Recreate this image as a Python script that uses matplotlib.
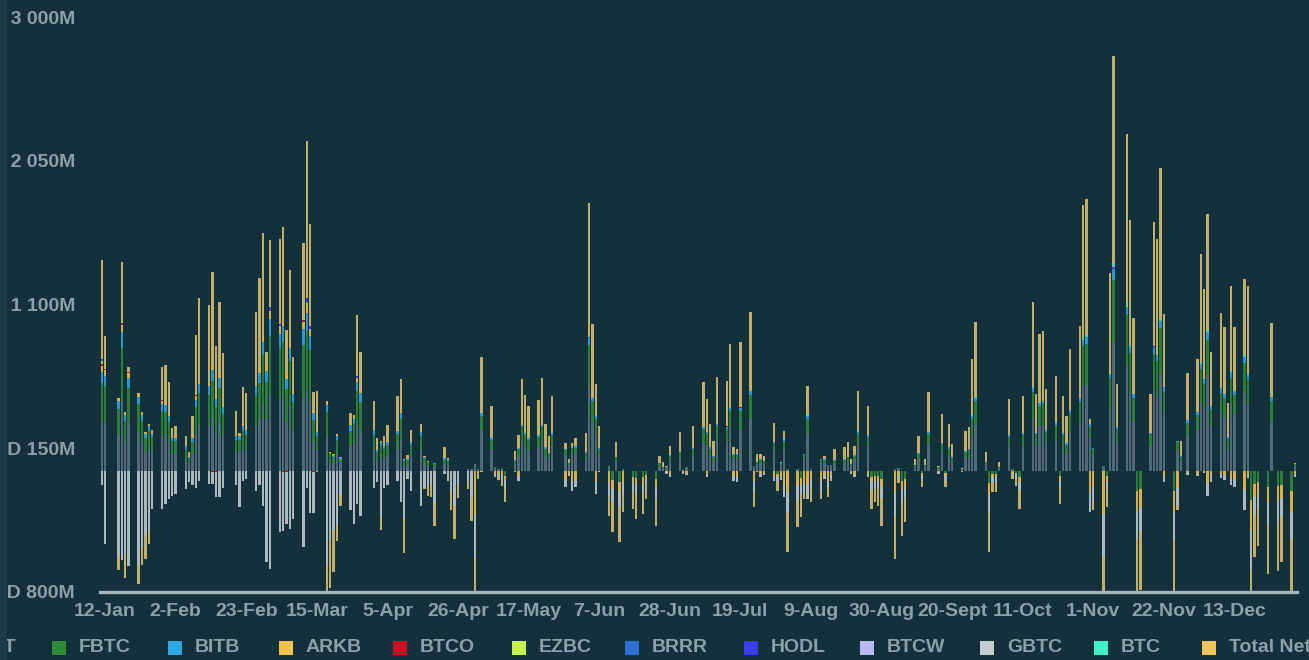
import matplotlib.pyplot as plt, numpy as np, pandas as pd
from matplotlib.patches import Rectangle

# US market holidays inside the plotted range (no trading, no bar)
HOLIDAYS = ["2024-01-15", "2024-02-19", "2024-03-29", "2024-05-27", "2024-06-19",
            "2024-07-04", "2024-09-02", "2024-11-28", "2024-12-25"]
TICK_LABELS = ["12-Jan", "2-Feb", "23-Feb", "15-Mar", "5-Apr", "26-Apr", "17-May", "7-Jun", "28-Jun",
               "19-Jul", "9-Aug", "30-Aug", "20-Sept", "11-Oct", "1-Nov", "22-Nov", "13-Dec"]
Y_TICKS = [-800, 150, 1100, 2050, 3000]
Y_LABELS = ["-USD 800M", "USD 150M", "USD 1 100M", "USD 2 050M", "USD 3 000M"]

# daily flows, US$m, one line per month (Jan 11 .. Dec 31, trading days only)
ibit = [320, 320, 240, 470, 195, 319, 260, 195, 127, 155, 132, 231, 232, 190,
        115, 115, 85, 50, 112, 247, 305, 295, 350, 250, 322, 222, 122, 122, 155, 140, 295, 340, 450, 345,
        512, 472, 505, 317, 427, 267, 485, 526, 462, 200, 137, 232, 65, 55, 122, 45, 157, 182, 307, 267,
        140, 72, 100, 87, 100, 142, 205, 40, 42, 100, 137, 50, 32, 0, 27, 45, 37, 0, 0, 0, 10, 10,
        45, 15, 265, 140, 18, 10, 15, 0, 49, 105, 198, 164, 140, 153, 199, 101, 76, 162, 103, 41, 111, 113,
        82, 569, 316, 253, 108, 23, 0, 61, 0, 10, 0, 0, 0, 0, 0, 36, 20, 20, 73,
        84, 8, 18, 98, 191, 180, 101, 65, 201, 186, 272, 77, 77, 271, 342, 23, 45, 53, 49, 134, 0, 37,
        138, 8, 10, 0, 78, 249, 10, 55, 54, 30, 30, 47, 51, 61, 37, 72, 165, 164, 0, 0, 0, 0,
        8, 15, 0, 0, 28, 76, 0, 28, 169, 20, 123, 0, 101, 58, 11, 86, 94, 235, 312, 43,
        0, 0, 0, 20, 155, 8, 0, 0, 162, 353, 166, 294, 301, 177, 205, 0, 162, 119, 262, 312, 560, 572, 215,
        105, 23, 0, 416, 847, 188, 694, 528, 329, 0, 0, 165, 529, 498, 642, 386, 0, 140, 65, 233,
        271, 456, 423, 635, 299, 381, 353, 146, 451, 369, 524, 444, 0, 0, 0, 0, 318, 0, 0, 0, 34]
fbtc = [260, 240, 170, 345, 135, 230, 180, 135, 90, 110, 90, 165, 160, 135,
        80, 80, 60, 35, 80, 175, 210, 205, 245, 175, 225, 155, 85, 85, 110, 100, 205, 240, 315, 245,
        380, 340, 350, 225, 300, 185, 350, 400, 335, 140, 95, 160, 45, 40, 85, 30, 110, 125, 220, 190,
        100, 50, 70, 60, 70, 100, 140, 25, 30, 70, 95, 35, 25, 0, 20, 30, 30, 0, 0, 0, 0, 0,
        0, 0, 95, 65, 6, 3, 5, -31, 18, 38, 91, 75, 65, 71, 92, 46, 35, 75, 37, 14, 40, 40,
        37, 265, 145, 91, 38, 7, -61, 29, -71, 3, -38, -48, -43, -28, -54, 15, 9, 7, 26,
        38, 2, 6, 45, 88, 64, 46, 30, 93, 89, 126, 27, 27, 127, 158, 7, 15, 19, 16, 48, -20, 15,
        55, 2, 3, -46, 28, 93, 3, 20, 19, 10, 10, 22, 23, 29, 12, 26, 79, 59, -38, -31, -35, -54,
        2, 5, -64, -51, 12, 35, -16, 12, 78, 7, 56, -16, 46, 27, 4, 40, 43, 111, 147, 19,
        -81, -21, -21, 9, 71, 2, -15, -38, 75, 167, 76, 136, 139, 81, 95, -33, 75, 55, 121, 144, 263, 270, 77,
        37, 7, -36, 196, 412, 86, 334, 249, 152, -135, -119, 76, 247, 229, 301, 138, -135, 50, 30, 84,
        97, 215, 151, 232, 107, 137, 126, 67, 165, 132, 191, 159, -195, -85, -75, -103, 147, -99, -90, -135, 11]
bitb = [75, 70, 50, 100, 40, 65, 50, 40, 25, 30, 25, 45, 45, 40,
        20, 20, 20, 10, 25, 50, 60, 60, 70, 50, 65, 45, 25, 25, 30, 30, 60, 70, 90, 70,
        110, 95, 100, 65, 85, 55, 100, 115, 95, 40, 25, 45, 10, 10, 25, 10, 35, 35, 60, 55,
        30, 15, 20, 15, 20, 25, 40, 10, 5, 20, 25, 10, 5, 0, 5, 10, 5, 0, 0, 0, 0, 0,
        0, 0, 20, 10, 0, 0, 0, 0, 4, 8, 15, 12, 11, 12, 15, 8, 6, 12, 8, 0, 8, 9,
        6, 43, 24, 19, 8, 0, 0, 5, 0, 0, 0, 0, 0, 0, 0, 0, 0, 0, 5,
        6, 0, 0, 7, 14, 14, 8, 5, 15, 15, 21, 6, 6, 21, 26, 0, 0, 4, 0, 10, 0, 0,
        12, 0, 0, 0, 6, 20, 0, 4, 4, 0, 0, 4, 4, 5, 0, 5, 13, 12, 0, 0, 0, 0,
        0, 0, 0, 0, 0, 6, 0, 0, 13, 0, 9, 0, 8, 4, 0, 7, 7, 18, 24, 0,
        0, 0, 0, 0, 12, 0, 0, 0, 12, 27, 12, 22, 23, 13, 15, 0, 12, 9, 20, 24, 43, 44, 16,
        8, 0, 0, 32, 67, 14, 55, 41, 25, 0, 0, 12, 40, 38, 49, 29, 0, 10, 5, 18,
        20, 35, 32, 49, 23, 29, 27, 11, 35, 28, 40, 33, 0, 0, 0, 0, 24, 0, 0, 0, 0]
arkb = [38, 35, 25, 50, 20, 33, 25, 20, 13, 15, 13, 23, 23, 20,
        10, 10, 10, 5, 13, 25, 30, 30, 35, 25, 33, 23, 13, 13, 15, 15, 30, 35, 45, 35,
        55, 48, 50, 33, 43, 28, 50, 58, 48, 20, 13, 23, 5, 5, 13, 5, 18, 18, 30, 28,
        15, 8, 10, 8, 10, 13, 20, 5, 3, 10, 13, 5, 3, 0, 3, 5, 3, 0, 0, 0, 0, 0,
        -290, -20, -5, 0, -16, -19, -30, -31, -4, -32, 0, 0, 0, 0, 0, 0, 0, 0, -54, -15, -65, -54,
        0, 0, 0, -76, -4, -82, -61, 0, -71, -71, -38, -48, -42, -28, -55, 0, 0, -10, -21,
        0, -7, -13, 0, 0, -21, 0, 0, 0, 0, 0, -32, -37, 0, 0, -67, -4, -20, -15, -32, -19, -30,
        -87, -137, -96, -46, -74, -92, -55, -66, -26, -53, -26, 0, 0, 0, -10, -20, 0, -20, -38, -31, -34, -55,
        -147, -25, -64, -51, 0, 0, -16, 0, 0, -10, 0, -16, 0, 0, -5, 0, 0, 0, 0, 0,
        -80, -22, -22, 0, 0, -15, -15, -38, 0, 0, 0, 0, 0, 0, 0, -32, 0, 0, 0, 0, 0, 0, -136,
        -102, -282, -35, 0, 0, 0, 0, 0, 0, -135, -118, 0, 0, 0, 0, -35, -135, -115, 0, -12,
        -17, 0, -6, -82, -35, -23, -29, 0, -47, -53, -129, -23, -195, -85, -74, -102, 0, -99, -90, -135, -20]
gbtc = [-95, -480, -570, -590, -550, -625, -630, -505, -420, -395, -250, -250, -220, -185,
        -165, -150, -120, -75, -95, -110, -65, -85, -75, -165, -175, -110, -95, -240, -65, -55, -130, -95, -230, -605,
        -645, -405, -385, -340, -385, -315, -505, -110, -275, -275, -10, -630, -450, -390, -355, -160, -260, -350, -220, -295,
        -110, -75, -295, -110, -95, -65, -205, -310, -55, -130, -230, -110, -115, -85, -210, -20, -65, -130, -225, -90, -65, -170,
        -285, -15, -5, 0, -17, -19, -30, -42, -5, -32, 0, 0, 0, 0, 0, 0, 0, 0, -54, -16, -65, -54,
        0, 0, 0, -76, -5, -83, -81, 0, -94, -72, -50, -63, -57, -37, -72, 0, 0, -10, -21,
        0, -8, -14, 0, 0, -21, 0, 0, 0, 0, 0, -32, -38, 0, 0, -68, -5, -20, -15, -32, -26, -30,
        -87, -137, -97, -61, -74, -93, -55, -66, -27, -54, -26, 0, 0, 0, -10, -20, 0, -20, -50, -42, -46, -72,
        -148, -25, -86, -68, 0, 0, -22, 0, 0, -10, 0, -22, 0, 0, -5, 0, 0, 0, 0, 0,
        -108, -28, -28, 0, 0, -15, -20, -50, 0, 0, 0, 0, 0, 0, 0, -44, 0, 0, 0, 0, 0, 0, -137,
        -103, -283, -47, 0, 0, 0, 0, 0, 0, -180, -158, 0, 0, 0, 0, -35, -180, -115, 0, -12,
        -18, 0, -6, -83, -35, -24, -30, 0, -47, -53, -130, -24, -260, -113, -99, -137, 0, -132, -120, -180, -20]
# smaller funds: (trading-day index, US$m)
btco = [(0, 15), (1, 10), (3, 12), (5, 8), (11, 6), (19, 8), (22, -8), (23, -10), (34, 8), (36, -10),
        (37, -8), (40, 10), (43, -6), (126, 8), (130, 6)]
ezbc = [(0, 20), (1, 10), (3, 8), (40, 10), (41, 12), (207, 10), (210, 12)]
brrr = [(0, 5), (34, 8), (41, 10), (99, 8), (208, 12)]
hodl = [(0, 10), (34, 12), (35, 15), (41, 20), (42, 15), (52, 8), (208, 10), (216, 8)]
btcw = [(0, 2), (41, 4), (208, 4)]
btc = [(138, 8), (139, 15), (144, 12), (155, 8), (178, 6), (179, 8), (190, 10), (201, 12), (202, 14),
       (208, 20), (210, 18), (211, 12), (218, 10), (225, 12), (227, 14), (232, 8), (234, 10)]

NAMES = ["IBIT", "FBTC", "BITB", "ARKB", "BTCO", "EZBC", "BRRR", "HODL", "BTCW", "GBTC", "BTC", "Total Net"]
COLORS = ["#5a7380", "#2e8a38", "#2aa8e2", "#f2c24e", "#c8141f", "#c6ef4c", "#2b6fd0", "#3c3cf2",
          "#bcb8f2", "#c3cdd2", "#3ef0cc", "#f0c458"]
BAR_COLORS = COLORS[:-1] + ["#dcc070"]
BG, TXT = "#14303a", "#8ba1a9"

days = pd.bdate_range("2024-01-11", "2024-12-31", freq="C", holidays=HOLIDAYS)
n = len(days)
x = (days - pd.Timestamp("2024-01-01")).days.values

def dense(pairs):
    a = np.zeros(n)
    for i, v in pairs:
        a[i] = v
    return a

series = [np.array(s, float) for s in (ibit, fbtc, bitb, arkb)]
series += [dense(p) for p in (btco, ezbc, brrr, hodl, btcw)]
series += [np.array(gbtc, float), dense(btc)]
assert all(len(s) == n for s in series), [len(s) for s in series]
series.append(np.sum(series, axis=0))  # total net

plt.rcParams["font.family"] = ["Liberation Sans", "DejaVu Sans"]
fig = plt.figure(figsize=(13.09, 6.6), dpi=100, facecolor=BG)
W, H = 1309, 660
ax = fig.add_axes([100 / W, 1 - 592 / H, 1197 / W, 575 / H], facecolor=BG)

pos, neg = np.zeros(n), np.zeros(n)
for vals, col in zip(series, BAR_COLORS):
    up = np.where(vals > 0, vals, 0)
    dn = np.where(vals < 0, vals, 0)
    ax.bar(x, up, bottom=pos, width=0.7, color=col, linewidth=0, alpha=0.88)
    ax.bar(x, dn, bottom=neg, width=0.7, color=col, linewidth=0, alpha=0.88)
    pos += up
    neg += dn

ax.set_xlim(9.5, 365.6)
ax.set_ylim(-800, 3000)
tick_days = pd.date_range("2024-01-12", periods=len(TICK_LABELS), freq="21D")
ax.set_xticks((tick_days - pd.Timestamp("2024-01-01")).days.values)
ax.set_xticklabels(TICK_LABELS)
ax.set_yticks(Y_TICKS)
ax.set_yticklabels(Y_LABELS)
ax.tick_params(length=0, colors=TXT, labelsize=14)
ax.tick_params(axis="y", pad=18)
ax.tick_params(axis="x", pad=8)
for lab in ax.get_xticklabels() + ax.get_yticklabels():
    lab.set_fontweight("bold")
for s in ("top", "right", "left"):
    ax.spines[s].set_visible(False)
ax.spines["bottom"].set_color("#a3b6bc")
ax.spines["bottom"].set_linewidth(2.4)

# legend row (partly cut off at both edges like the source screenshot)
sq_x = [-47, 52, 168, 279, 393, 512, 625, 744, 860, 980, 1094, 1202]
for name, col, sx in zip(NAMES, COLORS, sq_x):
    fig.add_artist(Rectangle((sx / W, 1 - 655 / H), 14 / W, 14 / H, transform=fig.transFigure,
                             facecolor=col, edgecolor="none"))
    fig.text((sx + 27) / W, 1 - 648 / H, name, color=TXT, fontsize=14, fontweight="bold", va="center")

# lighter strip at the left edge of the screenshot
fig.add_artist(Rectangle((0, 0), 7 / W, 1, transform=fig.transFigure, facecolor="#1d3b47",
                         edgecolor="none", zorder=10))

fig.savefig("out.png", dpi=100, facecolor=BG)
